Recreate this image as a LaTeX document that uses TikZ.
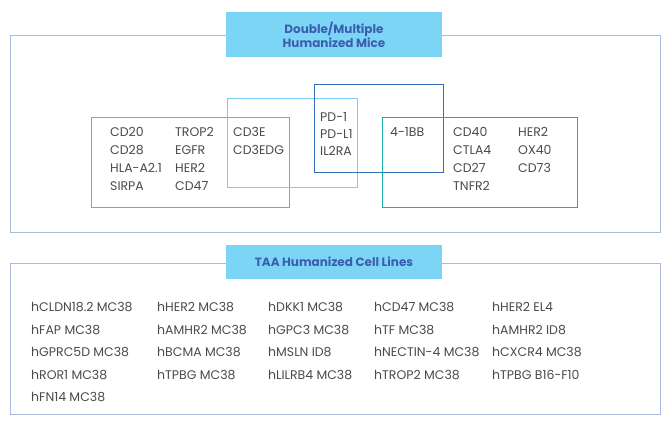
\documentclass[tikz,border=0pt]{standalone}
\usepackage{fontspec}
\setmainfont{Poppins}
\begin{document}
\begin{tikzpicture}[x=1pt,y=-1pt,
  title/.style={fill=titlefill,text=titletext,font=\fontsize{12}{14}\selectfont\bfseries,align=center,inner sep=0pt},
  lbl/.style={anchor=west,text=txt,font=\fontsize{12.5}{14}\selectfont,inner sep=0pt}]
\definecolor{titlefill}{HTML}{7DD5F5}
\definecolor{titletext}{HTML}{3A5DAE}
\definecolor{txt}{HTML}{4A4A4A}
\definecolor{fr}{HTML}{A9BCDB}
\definecolor{bA}{RGB}{62,190,225}
\definecolor{bB}{RGB}{120,205,240}
\definecolor{bC}{RGB}{52,110,180}
\definecolor{bD}{RGB}{25,175,170}
\useasboundingbox (0,0) rectangle (671,421);
% top panel
\draw[draw=fr,line width=0.6pt] (10,35) rectangle (660,232);
\node[title,minimum width=216pt,minimum height=45pt] (t1) at (334,34.5) {Double/Multiple\\Humanized Mice};
\draw[bA,line width=0.8pt] (91,117) rectangle (289,207);
\draw[bB,line width=0.8pt] (227,98) rectangle (357,187);
\draw[bC,line width=0.8pt] (314,84) rectangle (443,172);
\draw[bD,line width=0.8pt] (382,117) rectangle (577,207);
\foreach \t [count=\i] in {CD20,CD28,HLA-A2.1,SIRPA} \node[lbl] (a\i) at (110,114+18*\i) {\t};
\foreach \t [count=\i] in {TROP2,EGFR,HER2,CD47} \node[lbl] (b\i) at (175,114+18*\i) {\t};
\foreach \t [count=\i] in {CD3E,CD3EDG} \node[lbl] (c\i) at (233,114+18*\i) {\t};
\foreach \t [count=\i] in {PD-1,PD-L1,IL2RA} \node[lbl] (d\i) at (320,100+17*\i) {\t};
\node[lbl] (e1) at (390,132) {4-1BB};
\foreach \t [count=\i] in {CD40,CTLA4,CD27,TNFR2} \node[lbl] (f\i) at (453,114+18*\i) {\t};
\foreach \t [count=\i] in {HER2,OX40,CD73} \node[lbl] (g\i) at (518,114+18*\i) {\t};
% bottom panel
\draw[draw=fr,line width=0.6pt] (10,263) rectangle (660,414);
\node[title,minimum width=216pt,minimum height=34pt] (t2) at (334,262) {TAA Humanized Cell Lines};
\foreach \t [count=\i] in {hCLDN18.2 MC38,hFAP MC38,hGPRC5D MC38,hROR1 MC38,hFN14 MC38} \node[lbl] (p\i) at (31,284.5+22.5*\i) {\t};
\foreach \t [count=\i] in {hHER2 MC38,hAMHR2 MC38,hBCMA MC38,hTPBG MC38} \node[lbl] (q\i) at (157,284.5+22.5*\i) {\t};
\foreach \t [count=\i] in {hDKK1 MC38,hGPC3 MC38,hMSLN ID8,hLILRB4 MC38} \node[lbl] (r\i) at (268,284.5+22.5*\i) {\t};
\foreach \t [count=\i] in {hCD47 MC38,hTF MC38,hNECTIN-4 MC38,hTROP2 MC38} \node[lbl] (s\i) at (374,284.5+22.5*\i) {\t};
\foreach \t [count=\i] in {hHER2 EL4,hAMHR2 ID8,hCXCR4 MC38,hTPBG B16-F10} \node[lbl] (u\i) at (492,284.5+22.5*\i) {\t};
\end{tikzpicture}
\end{document}
